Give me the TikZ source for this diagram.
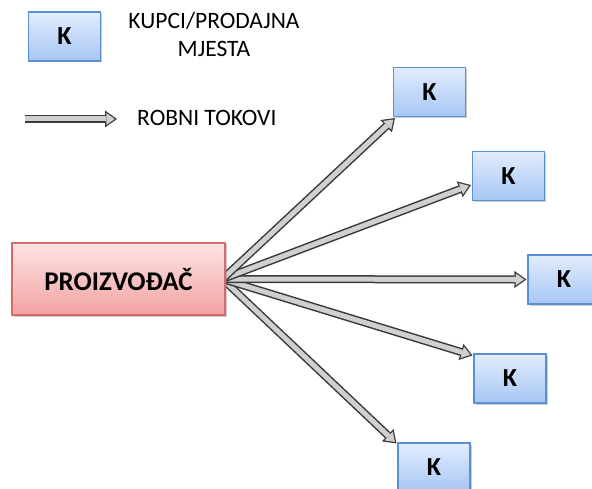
\documentclass[tikz,border=0pt]{standalone}
\usepackage{fontspec}
\setmainfont{Carlito}
\usetikzlibrary{arrows.meta,calc,shadows}
\pgfdeclarelayer{bg}
\pgfsetlayers{bg,main}
\definecolor{kborder}{HTML}{5B8FD4}
\definecolor{ktop}{HTML}{E2EDFD}
\definecolor{kbot}{HTML}{A6C6F4}
\definecolor{pborder}{HTML}{D46A6A}
\definecolor{ptop}{HTML}{FDE4E4}
\definecolor{pbot}{HTML}{F3A2A2}
\definecolor{arrowout}{HTML}{3A3A3A}
\definecolor{arrowin}{HTML}{D0D0D0}
\tikzset{
  kbox/.style={draw=kborder, line width=1.1pt, top color=ktop, bottom color=kbot,
    minimum width=72pt, minimum height=49pt, inner sep=0pt,
    font=\fontsize{26pt}{30pt}\selectfont\bfseries,
    drop shadow={shadow xshift=1.5pt, shadow yshift=-1.5pt, opacity=0.4}},
  pbox/.style={draw=pborder, line width=1.1pt, top color=ptop, bottom color=pbot,
    minimum width=213pt, minimum height=72pt, inner sep=0pt,
    font=\fontsize{27pt}{30pt}\selectfont\bfseries,
    drop shadow={shadow xshift=1.5pt, shadow yshift=-1.5pt, opacity=0.4}},
  legtext/.style={font=\fontsize{23.5pt}{28pt}\selectfont, align=center, inner sep=0pt},
  flowout/.style={draw=arrowout, line width=8pt,
    -{Triangle[length=12pt, width=17pt, line width=0pt]}},
  flowin/.style={draw=arrowin, line width=5pt, shorten >=2.2pt,
    -{Triangle[length=8.5pt, width=12pt, line width=0pt]}},
}
\newcommand\flowarrow[2]{%
  \draw[flowout] (#1) -- (#2);
  \draw[flowin] (#1) -- (#2);}
\begin{document}
\begin{tikzpicture}[x=1pt,y=-1pt]
\useasboundingbox (0,0) rectangle (592,489);
% legend
\node[kbox] (LK) at (64.5,36.5) {K};
\node[legtext] (LT) at (214,34) {KUPCI/PRODAJNA\\MJESTA};
\coordinate (la1) at (25,119);
\coordinate (la2) at (117,119);
\node[legtext, anchor=west] (LR) at (137,118) {ROBNI TOKOVI};
\flowarrow{la1}{la2}
% main nodes
\node[pbox] (P) at (118.5,279) {PROIZVOĐAČ};
\node[kbox] (K1) at (429.5,92) {K};
\node[kbox] (K2) at (508.5,176) {K};
\node[kbox] (K3) at (564,279.5) {K};
\node[kbox] (K4) at (510,378.5) {K};
\node[kbox] (K5) at (434,467.5) {K};
\coordinate (s) at ($(P.east)+(-3,0)$);
\coordinate (t1) at ($(K1.south west)+(2,1)$);
\coordinate (t2) at ($(K2.west)+(-1,9)$);
\coordinate (t3) at ($(K3.west)+(-1,0)$);
\coordinate (t4) at ($(K4.north west)+(-1,2)$);
\coordinate (t5) at ($(K5.north west)+(-1,1)$);
\begin{pgfonlayer}{bg}
\flowarrow{s}{t5}
\flowarrow{s}{t4}
\flowarrow{s}{t3}
\flowarrow{s}{t2}
\flowarrow{s}{t1}
\end{pgfonlayer}
\end{tikzpicture}
\end{document}
